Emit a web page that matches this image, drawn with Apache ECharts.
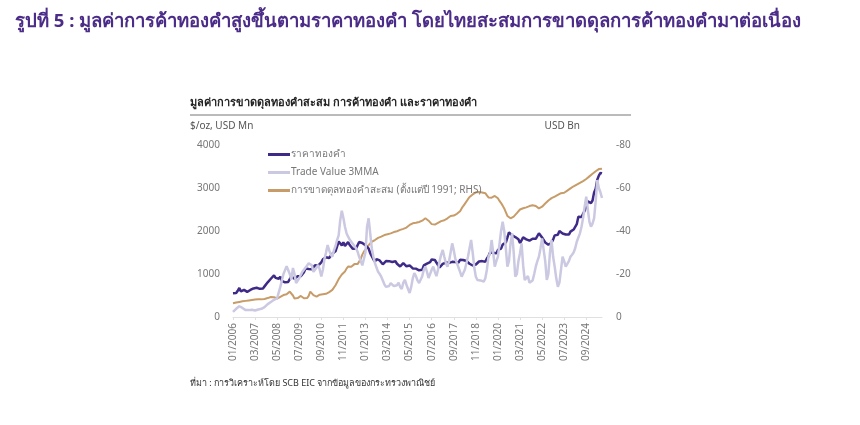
<!DOCTYPE html>
<html><head><meta charset="utf-8">
<script src="https://cdn.jsdelivr.net/npm/echarts@6/dist/echarts.min.js"></script>
<style>html,body{margin:0;padding:0;background:#fff}#c{width:860px;height:425px}</style>
</head><body><div id="c"></div>
<script>
// Monthly categories 01/2006 .. 07/2025
var startYear = 2006, startMonth = 1, nMonths = 235;
var categories = [];
for (var i = 0; i < nMonths; i++) {
  var m = (startMonth - 1 + i) % 12 + 1, y = startYear + Math.floor((startMonth - 1 + i) / 12);
  categories.push((m < 10 ? '0' + m : '' + m) + '/' + y);
}
// Gold price, $/oz (LHS)
var goldPrice = [
 550,555,557,610,676,596,633,632,598,585,627,629,
 631,665,655,679,667,655,665,665,712,754,806,803,
 889,922,968,909,888,889,939,839,829,806,760,816,
 858,943,924,890,928,946,934,949,996,1043,1127,1134,
 1118,1095,1113,1148,1205,1232,1193,1215,1271,1343,1370,1391,
 1356,1372,1424,1473,1510,1529,1572,1756,1772,1665,1739,1652,
 1656,1743,1674,1650,1585,1596,1594,1630,1745,1747,1722,1685,
 1671,1627,1593,1485,1414,1343,1287,1348,1349,1316,1275,1225,
 1244,1300,1336,1299,1287,1279,1311,1296,1239,1222,1176,1201,
 1251,1227,1179,1198,1199,1181,1129,1117,1125,1157,1086,1068,
 1097,1200,1246,1242,1260,1276,1337,1341,1326,1267,1236,1152,
 1192,1234,1231,1266,1246,1260,1237,1283,1314,1280,1283,1265,
 1331,1331,1325,1335,1303,1282,1238,1202,1198,1215,1221,1250,
 1291,1320,1300,1286,1284,1359,1413,1500,1510,1495,1471,1480,
 1560,1597,1592,1683,1716,1732,1847,1968,1922,1900,1866,1859,
 1867,1808,1718,1760,1850,1834,1807,1785,1775,1777,1821,1790,
 1817,1856,1948,1937,1849,1837,1733,1765,1681,1665,1726,1798,
 1898,1854,1912,1999,1992,1943,1951,1918,1916,1916,1985,2030,
 2034,2023,2158,2331,2351,2326,2398,2470,2571,2691,2651,2648,
 2709,2895,2984,3193,3288,3352,3340
];
// Trade value 3MMA, USD Mn (LHS)
var tradeValue = [
 120,150,190,230,250,240,210,180,160,150,160,170,
 170,160,150,160,175,170,190,210,230,260,300,330,
 350,380,400,420,440,480,700,850,1000,1090,1180,1150,
 1000,870,1140,1000,790,830,900,980,1050,1100,1140,1200,
 1250,1290,1200,1050,1100,1150,1210,1100,940,1100,1350,1500,
 1674,1550,1450,1403,1550,1650,1790,1900,2250,2473,2300,2100,
 1950,1867,1800,1750,1713,1650,1600,1519,1400,1300,1200,1170,
 1500,2100,2295,1950,1600,1400,1256,1150,1050,1000,938,850,
 760,700,674,720,790,760,720,700,740,800,700,650,
 800,860,750,650,558,700,900,1023,950,850,790,800,
 950,1100,1170,1050,907,950,1100,1170,1050,950,1100,1300,
 1450,1558,1400,1250,1170,1300,1500,1713,1550,1350,1256,1150,
 1050,938,950,1100,1250,1403,1600,1790,1500,1150,938,860,
 821,850,830,821,900,1100,1400,1481,1790,1500,1170,1300,
 1403,1700,2000,2217,2000,1600,1170,1300,1713,1946,1500,938,
 1000,1300,1481,1713,1200,860,900,950,800,783,850,1000,
 1170,1300,1403,1600,1829,1867,1300,860,1000,1500,1790,1400,
 1170,900,705,800,1100,1403,1300,1170,1200,1300,1403,1450,
 1500,1600,1750,1850,1946,2100,2300,2565,2798,2500,2217,2100,
 2170,2300,2700,3186,3000,2900,2767
];
// Cumulative gold trade deficit since 1991, USD Bn (RHS)
var cumDeficit = [
 -6.4,-6.5,-6.7,-6.9,-7.0,-7.1,-7.3,-7.4,-7.5,-7.6,-7.7,-7.8,
 -7.9,-8.0,-8.1,-8.1,-8.2,-8.3,-8.2,-8.2,-8.4,-8.6,-8.8,-9.0,
 -9.3,-9.5,-9.2,-8.8,-8.6,-8.9,-9.4,-9.9,-10.2,-10.0,-10.6,-11.2,
 -11.8,-11.2,-10.0,-8.6,-8.3,-8.8,-9.3,-9.8,-9.4,-8.7,-8.2,-8.8,
 -9.8,-11.8,-11.2,-10.2,-9.7,-9.5,-10.0,-10.4,-9.9,-10.6,-11.0,-10.8,
 -11.2,-11.6,-12.0,-12.6,-13.5,-14.8,-16.2,-17.6,-18.7,-19.8,-20.3,-21.2,
 -22.5,-23.5,-24.2,-23.4,-24.0,-24.6,-25.0,-24.6,-25.3,-27.0,-29.0,-30.4,
 -31.2,-32.3,-33.4,-34.3,-35.0,-35.5,-35.8,-36.3,-36.8,-37.0,-37.4,-37.8,
 -38.1,-38.2,-38.5,-38.7,-38.9,-39.2,-39.5,-39.7,-39.9,-40.2,-40.5,-40.8,
 -41.0,-41.2,-41.6,-42.2,-42.8,-43.2,-43.6,-43.5,-43.8,-44.0,-44.2,-44.3,
 -44.8,-45.4,-45.9,-45.6,-44.8,-44.0,-43.2,-42.8,-43.0,-43.4,-43.8,-44.2,
 -44.6,-45.1,-45.0,-45.4,-45.9,-46.4,-47.0,-47.4,-47.2,-47.6,-48.0,-48.4,
 -49.2,-50.5,-51.6,-52.6,-53.5,-54.8,-55.8,-56.5,-57.0,-57.5,-58.0,-58.3,
 -58.1,-57.8,-57.9,-58.2,-57.6,-56.6,-55.6,-55.2,-55.5,-56.0,-56.3,-56.0,
 -55.2,-54.0,-53.0,-51.8,-50.5,-48.8,-47.0,-46.2,-45.9,-46.3,-46.7,-47.5,
 -48.3,-49.2,-50.0,-50.4,-50.6,-50.8,-51.0,-51.3,-51.6,-51.8,-52.0,-52.2,
 -51.6,-51.0,-50.5,-50.6,-51.3,-52.0,-52.8,-53.5,-54.2,-54.8,-55.3,-55.6,
 -56.0,-56.4,-56.8,-57.2,-57.6,-57.3,-57.8,-58.3,-58.8,-59.4,-59.8,-60.3,
 -60.8,-61.3,-61.6,-62.0,-62.4,-62.8,-63.2,-63.6,-64.2,-64.8,-65.4,-66.0,
 -66.6,-67.2,-67.8,-68.4,-68.8,-69.2,-69.0
];
var seriesNames = ['ราคาทองคำ', 'Trade Value 3MMA', 'การขาดดุลทองคำสะสม (ตั้งแต่ปี 1991; RHS)'];

var font = '"Noto Sans", "Noto Sans CJK SC", sans-serif';
var chart = echarts.init(document.getElementById('c'), null, {renderer: 'canvas'});
chart.setOption({
  backgroundColor: '#fff',
  animation: false,
  textStyle: {fontFamily: font},
  title: [
    {text: 'รูปที่ 5 : มูลค่าการค้าทองคำสูงขึ้นตามราคาทองคำ โดยไทยสะสมการขาดดุลการค้าทองคำมาต่อเนื่อง',
     left: 15, top: 12, padding: 0, textStyle: {fontSize: 18.5, fontWeight: 'bold', color: '#4b2c88', fontFamily: font}},
    {text: 'มูลค่าการขาดดุลทองคำสะสม การค้าทองคำ และราคาทองคำ',
     left: 190, top: 97, padding: 0, textStyle: {fontSize: 11, fontWeight: 'bold', color: '#222', fontFamily: font}},
    {text: 'ที่มา : การวิเคราะห์โดย SCB EIC จากข้อมูลของกระทรวงพาณิชย์',
     left: 190, top: 379, padding: 0, textStyle: {fontSize: 9, fontWeight: 'normal', color: '#333', fontFamily: font}}
  ],
  graphic: [
    {type: 'line', shape: {x1: 190, y1: 115, x2: 631, y2: 115}, style: {stroke: '#777', lineWidth: 1}}
  ],
  legend: {
    data: seriesNames, orient: 'vertical', left: 268, top: 148, padding: 0,
    itemWidth: 22, itemHeight: 3, itemGap: 5,
    icon: 'rect',
    textStyle: {fontSize: 10, color: '#777', fontFamily: font, padding: [0, 0, 0, -4], lineHeight: 13}
  },
  grid: {left: 233, right: 258, top: 145, bottom: 108, containLabel: false},
  xAxis: {
    type: 'category', data: categories, boundaryGap: false,
    axisLine: {lineStyle: {color: '#e0e0e0'}},
    axisTick: {show: true, interval: 13, length: 3, lineStyle: {color: '#e0e0e0'}},
    axisLabel: {interval: 13, rotate: 90, fontSize: 10, color: '#777', margin: 6, fontFamily: font}
  },
  yAxis: [
    {type: 'value', min: 0, max: 4000, interval: 1000,
     name: '$/oz, USD Mn', nameLocation: 'end', nameGap: 14,
     nameTextStyle: {align: 'left', padding: [0, 0, 0, -43], fontSize: 10, color: '#555', fontFamily: font},
     axisLine: {show: false}, axisTick: {show: false}, splitLine: {show: false},
     axisLabel: {fontSize: 10, color: '#777', margin: 13, fontFamily: font, formatter: function (v) { return String(v); }}},
    {type: 'value', min: -80, max: 0, interval: 20, inverse: true,
     name: 'USD Bn', nameLocation: 'start', nameGap: 14,
     nameTextStyle: {align: 'right', padding: [0, 22, 0, 0], fontSize: 10, color: '#555', fontFamily: font},
     axisLine: {show: false}, axisTick: {show: false}, splitLine: {show: false},
     axisLabel: {fontSize: 10, color: '#777', margin: 14, fontFamily: font, formatter: function (v) { return String(v); }}}
  ],
  series: [
    {name: seriesNames[0], type: 'line', data: goldPrice, yAxisIndex: 0, symbol: 'none', z: 3,
     lineStyle: {color: '#3f2a88', width: 2.5}, itemStyle: {color: '#3f2a88'}},
    {name: seriesNames[1], type: 'line', data: tradeValue, yAxisIndex: 0, symbol: 'none', z: 4,
     lineStyle: {color: '#cbc8e2', width: 2.5}, itemStyle: {color: '#cbc8e2'}},
    {name: seriesNames[2], type: 'line', data: cumDeficit, yAxisIndex: 1, symbol: 'none', z: 2,
     lineStyle: {color: '#c79c68', width: 2}, itemStyle: {color: '#c79c68'}}
  ]
});
</script></body></html>
